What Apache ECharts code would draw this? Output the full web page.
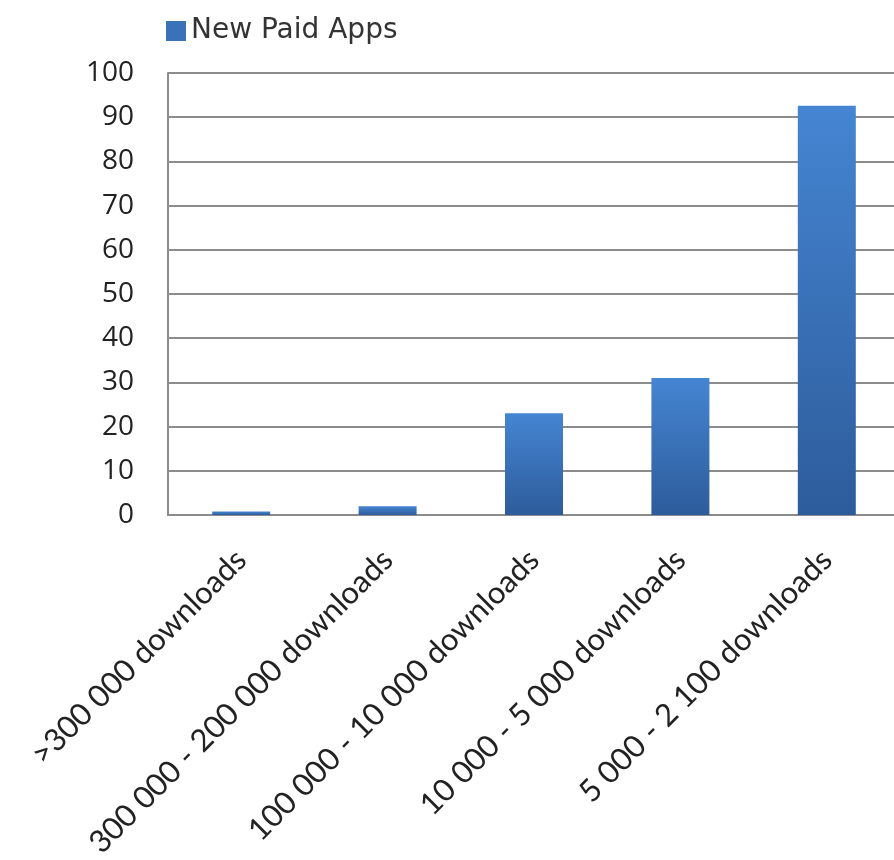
<!DOCTYPE html>
<html>
<head>
<meta charset="utf-8">
<script src="https://cdn.jsdelivr.net/npm/echarts@6/dist/echarts.min.js"></script>
<style>html,body{margin:0;padding:0;background:#fff}#c{width:894px;height:860px}</style>
</head>
<body>
<div id="c"></div>
<script>
const categories = [">300 000 downloads", "300 000 - 200 000 downloads", "100 000 - 10 000 downloads", "10 000 - 5 000 downloads", "5 000 - 2 100 downloads"];
const seriesName = "New Paid Apps";
const values = [0.8, 2, 23, 31, 92.6];
const yMin = 0, yMax = 100, yInterval = 10;

const chart = echarts.init(document.getElementById('c'), null, {renderer: 'canvas'});
const barColor = new echarts.graphic.LinearGradient(0, 0, 0, 1, [
  {offset: 0, color: '#4585d2'},
  {offset: 1, color: '#2d5c9b'}
]);
chart.setOption({
  animation: false,
  backgroundColor: '#ffffff',
  legend: {
    left: 161, top: 12,
    itemWidth: 20, itemHeight: 20, itemGap: 12,
    icon: 'rect',
    textStyle: {fontFamily: 'DejaVu Sans', fontSize: 28, color: '#333'},
    data: [{name: seriesName, itemStyle: {color: '#3a72b8'}}]
  },
  grid: {left: 168, top: 73, bottom: 345, right: -6, containLabel: false, outerBoundsMode: 'none'},
  xAxis: {
    type: 'category',
    data: categories,
    axisLine: {show: true, lineStyle: {color: '#8c8c8c', width: 2}},
    axisTick: {show: false},
    axisLabel: {
      rotate: 45, interval: 0, margin: 40,
      fontFamily: 'Lato', fontSize: 31, color: '#222'
    }
  },
  yAxis: {
    type: 'value', min: yMin, max: yMax, interval: yInterval,
    axisLine: {show: true, lineStyle: {color: '#8c8c8c', width: 2}},
    axisTick: {show: false},
    splitLine: {show: true, lineStyle: {color: '#8c8c8c', width: 2}},
    axisLabel: {margin: 34, fontFamily: 'Open Sans', fontSize: 28, color: '#222'}
  },
  series: [{
    name: seriesName,
    type: 'bar',
    data: values,
    barWidth: 58,
    itemStyle: {color: barColor}
  }]
});
</script>
</body>
</html>
